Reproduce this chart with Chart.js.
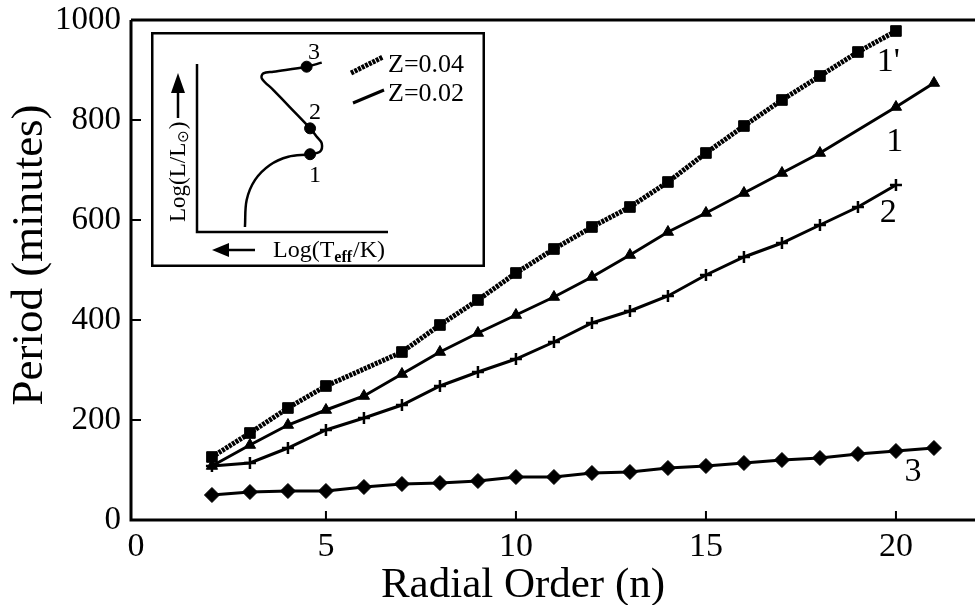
<!DOCTYPE html>
<html lang="en">
<head>
<meta charset="UTF-8">
<title>Period vs Radial Order</title>
<script src="https://cdn.jsdelivr.net/npm/chart.js"></script>
<style>
  body { margin: 0; background: #fff; }
  #wrap { position: relative; width: 975px; height: 605px; }
  #mainChart { position: absolute; left: 0; top: 0; }
  #insetChart { position: absolute; left: 151px; top: 32px; }
</style>
</head>
<body>
<div id="wrap">
  <canvas id="mainChart" width="975" height="605"></canvas>
  <canvas id="insetChart" width="334" height="235"></canvas>
</div>
<script>
// periods (minutes) against radial order n
const nZ04 = [2, 3, 4, 5, 7, 8, 9, 10, 11, 12, 13, 14, 15, 16, 17, 18, 19, 20];
const periodZ04 = [126, 174, 224, 268, 336, 390, 440, 494, 542, 586, 626, 676, 734, 788, 840, 888, 936, 978];

const nStage1 = [2, 3, 4, 5, 6, 7, 8, 9, 10, 11, 12, 13, 14, 15, 16, 17, 18, 20, 21];
const periodStage1 = [108, 150, 190, 220, 248, 292, 336, 374, 410, 446, 486, 530, 576, 614, 654, 694, 734, 826, 874];

const nStage2 = [2, 3, 4, 5, 6, 7, 8, 9, 10, 11, 12, 13, 14, 15, 16, 17, 18, 19, 20];
const periodStage2 = [108, 114, 144, 180, 204, 230, 268, 296, 322, 356, 394, 418, 448, 490, 526, 554, 590, 626, 670];

const nStage3 = [2, 3, 4, 5, 6, 7, 8, 9, 10, 11, 12, 13, 14, 15, 16, 17, 18, 19, 20, 21];
const periodStage3 = [50, 56, 58, 58, 66, 72, 74, 78, 86, 86, 94, 96, 104, 108, 114, 120, 124, 132, 138, 144];

const xTicks = [0, 5, 10, 15, 20];
const xTitle = 'Radial Order (n)';
const yTitle = 'Period (minutes)';

// curve names, placed in data units
const curveNames = ["1'", "1", "2", "3"];
const curveNameN = [19.8, 19.97, 19.8, 20.45];
const curveNameP = [916, 756, 614, 96];

// inset: schematic evolutionary track (arbitrary units, Teff decreasing to the right)
const trackX = [25.1, 26.0, 30.4, 38.2, 47.8, 59.2, 64.4, 65.3, 62.7, 59.2, 48.7, 40.0, 33.9, 34.7, 40.0, 57.4, 65.3];
const trackY = [3.0, 19.0, 31.0, 39.9, 44.8, 46.3, 47.8, 52.8, 56.7, 61.7, 74.2, 84.5, 91.5, 94.4, 95.4, 98.4, 100.8];
const stageX = [59.2, 59.2, 57.4];
const stageY = [46.3, 61.7, 98.4];
const stageNames = ['1', '2', '3'];
const stageNameX = [61.8, 61.8, 61.3];
const stageNameY = [33.3, 70.8, 106.5];

const serif = "'Liberation Serif', 'Times New Roman', serif";
const toPoints = (xs, ys) => xs.map((x, i) => ({ x: x, y: ys[i] }));

const frame = {
    id: 'frame',
    afterDraw(chart) {
        const { ctx, chartArea: a, scales } = chart;
        ctx.save();
        ctx.strokeStyle = '#000';
        ctx.lineWidth = 3;
        ctx.beginPath();
        ctx.moveTo(a.left, a.top);
        ctx.lineTo(a.left, a.bottom);
        ctx.lineTo(a.right, a.bottom);
        ctx.moveTo(a.left, a.top);
        ctx.lineTo(a.right, a.top);
        ctx.stroke();

        // inward tick marks
        ctx.lineWidth = 2;
        ctx.beginPath();
        scales.y.ticks.forEach(t => {
            if (t.value <= 0 || t.value >= 1000) return;
            const y = scales.y.getPixelForValue(t.value);
            ctx.moveTo(a.left, y);
            ctx.lineTo(a.left + 10, y);
        });
        scales.x.ticks.forEach(t => {
            if (t.value <= 0) return;
            const x = scales.x.getPixelForValue(t.value);
            ctx.moveTo(x, a.bottom);
            ctx.lineTo(x, a.bottom - 9);
        });
        ctx.stroke();

        ctx.fillStyle = '#000';
        ctx.font = '34px ' + serif;
        ctx.textAlign = 'center';
        ctx.textBaseline = 'middle';
        curveNames.forEach((s, i) => {
            ctx.fillText(s, scales.x.getPixelForValue(curveNameN[i]), scales.y.getPixelForValue(curveNameP[i]));
        });

        // axis titles
        ctx.textBaseline = 'alphabetic';
        ctx.font = '43px ' + serif;
        ctx.fillText(xTitle, 523, 597);
        ctx.save();
        ctx.translate(42, 255);
        ctx.rotate(-Math.PI / 2);
        ctx.font = '45px ' + serif;
        ctx.fillText(yTitle, 0, 0);
        ctx.restore();
        ctx.restore();
    }
};

new Chart(document.getElementById('mainChart'), {
    type: 'scatter',
    data: {
        datasets: [
            {
                label: "1' (Z=0.04)",
                data: toPoints(nZ04, periodZ04),
                showLine: true,
                borderColor: '#000',
                backgroundColor: '#000',
                borderWidth: 5,
                borderDash: [3, 1],
                pointStyle: 'rect',
                pointRadius: 7.5,
                pointBorderWidth: 1
            },
            {
                label: '1',
                data: toPoints(nStage1, periodStage1),
                showLine: true,
                borderColor: '#000',
                backgroundColor: '#000',
                borderWidth: 3,
                pointStyle: 'triangle',
                pointRadius: 6.5,
                pointBorderWidth: 1
            },
            {
                label: '2',
                data: toPoints(nStage2, periodStage2),
                showLine: true,
                borderColor: '#000',
                backgroundColor: '#000',
                borderWidth: 3,
                pointStyle: 'cross',
                pointRadius: 6,
                pointBorderWidth: 2.5
            },
            {
                label: '3',
                data: toPoints(nStage3, periodStage3),
                showLine: true,
                borderColor: '#000',
                backgroundColor: '#000',
                borderWidth: 3,
                pointStyle: 'rectRot',
                pointRadius: 7.5,
                pointBorderWidth: 1
            }
        ]
    },
    options: {
        responsive: false,
        animation: false,
        layout: { autoPadding: false, padding: { top: 20, right: 0, left: 0, bottom: 0 } },
        plugins: { legend: { display: false }, tooltip: { enabled: false } },
        scales: {
            x: {
                type: 'linear',
                min: -0.13,
                max: 22.08,
                afterBuildTicks: scale => { scale.ticks = xTicks.map(v => ({ value: v })); },
                afterFit: scale => {
                    scale.height = 85;
                    scale.paddingLeft = 0;
                    scale.paddingRight = 0;
                },
                grid: { display: false, drawTicks: false },
                border: { display: false },
                ticks: { color: '#000', padding: 7, font: { family: serif, size: 34 } }
            },
            y: {
                min: 0,
                max: 1000,
                afterFit: scale => {
                    scale.width = 131;
                    scale.paddingTop = 0;
                    scale.paddingBottom = 0;
                },
                grid: { display: false, drawTicks: false },
                border: { display: false },
                ticks: {
                    stepSize: 200,
                    color: '#000',
                    padding: 10,
                    font: { family: serif, size: 33 },
                    callback: v => String(v)
                }
            }
        }
    },
    plugins: [frame]
});

// ---- inset ----
function arrow(ctx, x1, y1, x2, y2, head, half) {
    const ang = Math.atan2(y2 - y1, x2 - x1);
    const bx = x2 - head * Math.cos(ang), by = y2 - head * Math.sin(ang);
    ctx.beginPath();
    ctx.moveTo(x1, y1);
    ctx.lineTo(bx, by);
    ctx.stroke();
    ctx.beginPath();
    ctx.moveTo(x2, y2);
    ctx.lineTo(bx + half * Math.sin(ang), by - half * Math.cos(ang));
    ctx.lineTo(bx - half * Math.sin(ang), by + half * Math.cos(ang));
    ctx.closePath();
    ctx.fill();
}

const insetDecor = {
    id: 'insetDecor',
    beforeDraw(chart) {
        const ctx = chart.ctx;
        ctx.save();
        ctx.fillStyle = '#fff';
        ctx.fillRect(0, 0, chart.width, chart.height);
        ctx.strokeStyle = '#000';
        ctx.lineWidth = 2.5;
        ctx.strokeRect(1.25, 1.25, chart.width - 2.5, chart.height - 2.5);
        ctx.restore();
    },
    afterDraw(chart) {
        const { ctx, chartArea: a, scales } = chart;
        ctx.save();
        ctx.strokeStyle = '#000';
        ctx.fillStyle = '#000';
        ctx.lineWidth = 2.5;
        ctx.beginPath();
        ctx.moveTo(a.left, a.top);
        ctx.lineTo(a.left, a.bottom);
        ctx.lineTo(a.right, a.bottom);
        ctx.stroke();

        ctx.lineWidth = 2.5;
        arrow(ctx, 27, 86, 27, 41, 20, 7);
        arrow(ctx, 104, 218, 61, 218, 17, 7);

        // y label, rotated
        ctx.save();
        ctx.translate(28, 190);
        ctx.rotate(-Math.PI / 2);
        ctx.textBaseline = 'middle';
        ctx.textAlign = 'left';
        ctx.font = '23px ' + serif;
        let x = 0;
        ctx.fillText('Log(L/L', x, 0);
        x += ctx.measureText('Log(L/L').width;
        ctx.font = '15px DejaVu Sans';
        ctx.fillText('\u2299', x, 5);
        x += ctx.measureText('\u2299').width;
        ctx.font = '23px ' + serif;
        ctx.fillText(')', x + 1, 0);
        ctx.restore();

        // x label with subscript
        ctx.textBaseline = 'alphabetic';
        ctx.textAlign = 'left';
        ctx.font = '24px ' + serif;
        x = 122;
        ctx.fillText('Log(T', x, 225);
        x += ctx.measureText('Log(T').width;
        ctx.font = 'bold 16px ' + serif;
        ctx.fillText('eff', x, 230);
        x += ctx.measureText('eff').width + 1;
        ctx.font = '24px ' + serif;
        ctx.fillText('/K)', x, 225);

        // stage labels
        ctx.font = '24px ' + serif;
        ctx.textAlign = 'center';
        ctx.textBaseline = 'middle';
        stageNames.forEach((s, i) => {
            ctx.fillText(s, scales.x.getPixelForValue(stageNameX[i]), scales.y.getPixelForValue(stageNameY[i]));
        });

        // metallicity key
        ctx.lineWidth = 5;
        ctx.setLineDash([3, 1]);
        ctx.beginPath();
        ctx.moveTo(200, 41);
        ctx.lineTo(232, 25);
        ctx.stroke();
        ctx.setLineDash([]);
        ctx.lineWidth = 3;
        ctx.beginPath();
        ctx.moveTo(202, 71);
        ctx.lineTo(233, 58);
        ctx.stroke();
        ctx.font = '26px ' + serif;
        ctx.textAlign = 'left';
        ctx.fillText('Z=0.04', 237, 33);
        ctx.fillText('Z=0.02', 237, 62);
        ctx.restore();
    }
};

new Chart(document.getElementById('insetChart'), {
    type: 'scatter',
    data: {
        datasets: [
            {
                data: toPoints(trackX, trackY),
                showLine: true,
                tension: 0.35,
                borderColor: '#000',
                borderWidth: 2.5,
                pointRadius: 0,
                clip: false
            },
            {
                data: toPoints(stageX, stageY),
                pointStyle: 'circle',
                pointRadius: 5.5,
                backgroundColor: '#000',
                borderColor: '#000',
                clip: false
            }
        ]
    },
    options: {
        responsive: false,
        animation: false,
        layout: { autoPadding: false, padding: { left: 46, top: 32, right: 97, bottom: 35 } },
        plugins: { legend: { display: false }, tooltip: { enabled: false } },
        scales: {
            x: { display: false, min: 0, max: 100 },
            y: { display: false, min: 0, max: 100 }
        }
    },
    plugins: [insetDecor]
});
</script>
</body>
</html>
